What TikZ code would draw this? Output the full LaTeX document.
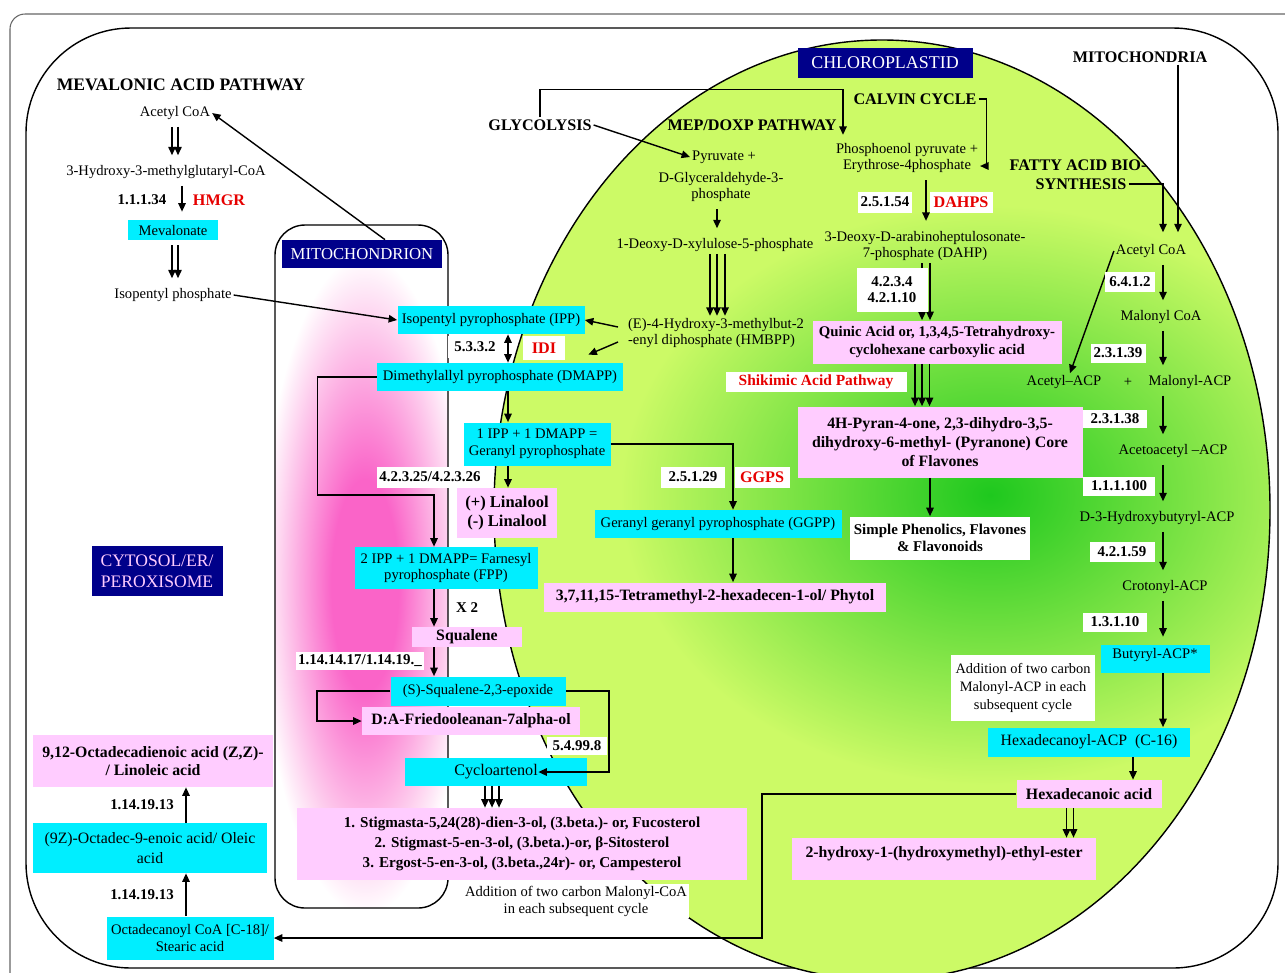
\documentclass[tikz,border=0pt]{standalone}
\usepackage{fontspec}
\setmainfont{Liberation Serif}
\usetikzlibrary{arrows.meta}

\definecolor{boxcyan}{RGB}{0,238,255}
\definecolor{boxpink}{RGB}{255,204,255}
\definecolor{labnavy}{RGB}{0,0,138}
\definecolor{chlight}{RGB}{204,250,102}
\definecolor{chdark}{RGB}{30,200,30}
\definecolor{mitpink}{RGB}{250,100,200}
\definecolor{enzred}{RGB}{230,0,0}
\pgfdeclareradialshading{mitglow}{\pgfpoint{0bp}{0bp}}%
  {color(0bp)=(mitpink); color(8bp)=(mitpink); color(25bp)=(white); color(50bp)=(white)}

\begin{document}
\begin{tikzpicture}[
  x=0.2mm, y=-0.2mm,
  font=\fontsize{8.3}{9.6}\selectfont,
  txt/.style={align=center, inner sep=1pt},
  hdr/.style={txt, font=\fontsize{9.2}{11}\selectfont\bfseries},
  cy/.style={txt, fill=boxcyan, minimum height=5.6mm},
  pk/.style={txt, fill=boxpink, minimum height=5.6mm,
             font=\fontsize{9}{10.6}\selectfont\bfseries},
  ec/.style={txt, fill=white, minimum height=4mm, inner sep=1.5pt,
             font=\fontsize{8.5}{9.2}\selectfont\bfseries},
  enz/.style={ec, text=enzred, font=\fontsize{9.2}{11}\selectfont\bfseries},
  comp/.style={txt, fill=labnavy, text=white},
  >={Triangle[length=1.7mm, width=1.5mm]},
  ln/.style={->, line width=0.8pt},
  fst/.style={ln, shorten <=1mm, shorten >=1.6mm},
  wall/.style={line width=0.8pt},
]
\useasboundingbox (0,0) rectangle (1285,972);

% cell, chloroplast and mitochondrion
\draw[black!60, line width=0.6pt, rounded corners=3mm] (10,14) rectangle (1300,1000);
\draw[wall, rounded corners=21mm] (26,28) rectangle (1278,968);
\fill[chlight] (882,510) ellipse [x radius=77.6mm, y radius=94mm];
\begin{scope}
  \clip (882,510) ellipse [x radius=77.6mm, y radius=94mm];
  \shade[inner color=chdark, outer color=chlight]
    (990,495) ellipse [x radius=74mm, y radius=58mm];
\end{scope}
\draw[wall] (882,510) ellipse [x radius=77.6mm, y radius=94mm];
\begin{scope}
  \clip[rounded corners=6mm] (275,225) rectangle (448,908);
  \shade[shading=mitglow] (365,585) ellipse [x radius=21mm, y radius=66mm];
\end{scope}
\draw[wall, rounded corners=6mm] (275,225) rectangle (448,908);

% mevalonic acid pathway
\node[hdr, font=\fontsize{10}{12}\selectfont\bfseries] (mvat) at (181,85) {MEVALONIC ACID PATHWAY};
\node[txt] (acoa) at (175,113) {Acetyl CoA};
\node[txt] (hmg) at (166,172) {3-Hydroxy-3-methylglutaryl-CoA};
\node[cy, minimum width=18mm, minimum height=4mm] (meva) at (173,230) {Mevalonate};
\node[txt] (ip) at (173,295) {Isopentyl phosphate};

% mitochondrion
\node[comp, minimum width=32mm, minimum height=5.6mm,
      font=\fontsize{9.5}{11}\selectfont] (mitl) at (362,254) {MITOCHONDRION};
\node[cy, minimum width=37.4mm] (ipp) at (491,320) {Isopentyl pyrophosphate (IPP)};
\node[cy, minimum width=49.2mm] (dmapp) at (500,377) {Dimethylallyl pyrophosphate (DMAPP)};
\node[cy, minimum width=29.4mm, minimum height=8.6mm] (gpp) at (537,444)
     {1 IPP + 1 DMAPP =\\Geranyl pyrophosphate};
\node[pk, minimum width=20mm, minimum height=10mm,
      font=\fontsize{9.4}{11}\selectfont\bfseries] (lin) at (507,513)
     {(+) Linalool\\(-) Linalool};
\node[cy, minimum width=36.6mm, minimum height=8.4mm] (fpp) at (446,568)
     {2 IPP + 1 DMAPP= Farnesyl\\pyrophosphate (FPP)};
\node[txt, font=\fontsize{8.5}{10}\selectfont\bfseries] (x2) at (467,608) {X 2};
\node[pk, minimum width=22mm, minimum height=4mm] (squal) at (467,637) {Squalene};
\node[cy, minimum width=35mm, minimum height=5.8mm] (epox) at (478,691) {(S)-Squalene-2,3-epoxide};
\node[pk, minimum width=43.6mm] (fried) at (471,721) {D:A-Friedooleanan-7alpha-ol};
\node[cy, minimum width=36.4mm, font=\fontsize{9.2}{11}\selectfont] (cyc) at (496,772) {Cycloartenol};
\node[pk, minimum width=90mm, minimum height=14.4mm,
      font=\fontsize{8.6}{11.6}\selectfont\bfseries] (ster) at (522,844)
     {1. Stigmasta-5,24(28)-dien-3-ol, (3.beta.)- or, Fucosterol\\
      2. Stigmast-5-en-3-ol, (3.beta.)-or, β-Sitosterol\\
      3. Ergost-5-en-3-ol, (3.beta.,24r)- or, Campesterol};
\node[txt, fill=white] (addc) at (576,901)
     {Addition of two carbon Malonyl-CoA\\in each subsequent cycle};

% chloroplastid
\node[comp, minimum width=35mm, minimum height=6mm,
      font=\fontsize{10.2}{12}\selectfont] (chl) at (885,63) {CHLOROPLASTID};
\node[hdr] (glyc) at (540,125) {GLYCOLYSIS};
\node[hdr] (mep) at (752,125) {MEP/DOXP PATHWAY};
\node[txt] (pyr) at (724,157) {Pyruvate +};
\node[txt] (gap) at (721,187) {D-Glyceraldehyde-3-\\phosphate};
\node[txt] (dxp) at (715,245) {1-Deoxy-D-xylulose-5-phosphate};
\node[txt, align=left, anchor=west] (hmb) at (626,333)
     {(E)-4-Hydroxy-3-methylbut-2\\-enyl diphosphate (HMBPP)};
\node[hdr] (calv) at (915,99) {CALVIN CYCLE};
\node[txt] (pep) at (907,158) {Phosphoenol pyruvate +\\Erythrose-4phosphate};
\node[txt] (dahp) at (925,246) {3-Deoxy-D-arabinoheptulosonate-\\7-phosphate (DAHP)};
\node[pk, minimum width=49.8mm, minimum height=8.6mm,
      font=\fontsize{8.4}{10.6}\selectfont\bfseries] (quin) at (937,342)
     {Quinic Acid or, 1,3,4,5-Tetrahydroxy-\\cyclohexane carboxylic acid};
\node[pk, minimum width=57mm, minimum height=14.2mm] (pyran) at (940,442)
     {4H-Pyran-4-one, 2,3-dihydro-3,5-\\dihydroxy-6-methyl- (Pyranone) Core\\of Flavones};
\node[txt, fill=white, minimum width=36mm, minimum height=8.6mm,
      font=\fontsize{8.5}{9.8}\selectfont\bfseries] (simp) at (940,538)
     {Simple Phenolics, Flavones\\\& Flavonoids};
\node[cy, minimum width=49.4mm] (ggpp) at (718,524) {Geranyl geranyl pyrophosphate (GGPP)};
\node[pk, minimum width=68.4mm, minimum height=5.8mm] (phyt) at (715,597)
     {3,7,11,15-Tetramethyl-2-hexadecen-1-ol/ Phytol};

% fatty acid biosynthesis
\node[hdr] (mitt) at (1140,57) {MITOCHONDRIA};
\node[hdr] (fas1) at (1078,165) {FATTY ACID BIO-};
\node[hdr] (fas2) at (1081,184) {SYNTHESIS};
\node[txt] (acoa2) at (1151,251) {Acetyl CoA};
\node[txt] (mcoa) at (1161,317) {Malonyl CoA};
\node[txt] (aacp) at (1064,382) {Acetyl–ACP};
\node[txt] (plus) at (1128,382) {+};
\node[txt] (macp) at (1190,382) {Malonyl-ACP};
\node[txt] (aaacp) at (1173,451) {Acetoacetyl –ACP};
\node[txt] (hbacp) at (1157,518) {D-3-Hydroxybutyryl-ACP};
\node[txt] (cacp) at (1165,587) {Crotonyl-ACP};
\node[cy, minimum width=21.8mm, text depth=2.2mm] (bacp) at (1155,659) {Butyryl-ACP*};
\node[txt, fill=white, minimum width=28.8mm, minimum height=13.2mm,
      font=\fontsize{8.2}{10.4}\selectfont] (addm) at (1023,688)
     {Addition of two carbon\\Malonyl-ACP in each\\subsequent cycle};
\node[cy, minimum width=40.4mm, minimum height=5.8mm,
      font=\fontsize{9}{11}\selectfont] (hacp) at (1089,742) {Hexadecanoyl-ACP\ \ (C-16)};
\node[pk, minimum width=29mm] (hexa) at (1089,794) {Hexadecanoic acid};
\node[pk, minimum width=60.8mm, minimum height=8.4mm, text depth=3mm] (ester) at (944,859)
     {2-hydroxy-1-(hydroxymethyl)-ethyl-ester};

% cytosol
\node[comp, minimum width=26.2mm, minimum height=10mm, text=boxpink,
      font=\fontsize{10}{12}\selectfont] (cyto) at (157,571) {CYTOSOL/ER/\\PEROXISOME};
\node[pk, minimum width=47.8mm, minimum height=10.4mm] (linol) at (153,761)
     {9,12-Octadecadienoic acid (Z,Z)-\\/ Linoleic acid};
\node[cy, minimum width=46.6mm, minimum height=10mm,
      font=\fontsize{9}{11}\selectfont] (oleic) at (150,848)
     {(9Z)-Octadec-9-enoic acid/ Oleic\\acid};
\node[cy, minimum width=33.4mm, minimum height=8.6mm] (octa) at (190,938)
     {Octadecanoyl CoA [C-18]/\\Stearic acid};

% columns of the vertical steps
\coordinate (cM) at (175,0);
\coordinate (cI) at (508,0);
\coordinate (cF) at (434,0);
\coordinate (cG) at (733,0);
\coordinate (cX) at (717,0);
\coordinate (cD) at (926,0);
\coordinate (cQ) at (922,0);
\coordinate (cS) at (492,0);
\coordinate (cA) at (1163,0);
\coordinate (cH) at (1133,0);
\coordinate (cE) at (1070,0);
\coordinate (cO) at (186,0);
\coordinate (cT) at (1178,0);

\foreach \d in {-0.6,0.6} {
  \draw[fst] ([xshift=\d mm]cM |- acoa.south) -- ([xshift=\d mm]cM |- hmg.north);
  \draw[fst] ([xshift=\d mm]cM |- meva.south) -- ([xshift=\d mm]cM |- ip.north);
}
\draw[fst] ([xshift=1.4mm]cM |- hmg.south) -- ([xshift=1.4mm]cM |- meva.north);
\draw[ln] (ip.east) -- (ipp.west);
\draw[ln] ([xshift=4.6mm]mitl.north) -- (acoa.east);

\draw[ln] (glyc.east) -- (pyr.west);
\draw[ln] (glyc.north) -- ++(0,-28) -| ([xshift=-12.8mm, yshift=1.2mm]pep.north);
\draw[ln] (calv.east) -- ++(8,0) |- ([yshift=-1.6mm]pep.east);
\draw[fst] (cX |- gap.south) -- (cX |- dxp.north);
\foreach \d in {-1.4,0,1.6}
  \draw[ln] ([xshift=\d mm]cX |- dxp.south) -- ([xshift=\d mm]cX |- hmb.north);
\draw[ln] ([shift={(-1.6mm,1.2mm)}]hmb.west) -- (ipp.east);
\draw[ln] ([shift={(-1.6mm,-1.8mm)}]hmb.west) -- ([shift={(-7mm,1.6mm)}]dmapp.north east);
\draw[fst] (cD |- pep.south) -- (cD |- dahp.north);
\foreach \d in {-0.8,0.8}
  \draw[ln] ([xshift=\d mm]cD |- dahp.south) -- ([xshift=\d mm]cD |- quin.north);
\foreach \d in {-1.4,0,1.5}
  \draw[ln] ([xshift=\d mm]cQ |- quin.south) -- ([xshift=\d mm]cQ |- pyran.north);
\draw[ln] ([xshift=1.6mm]cQ |- pyran.south) -- ([xshift=1.6mm]cQ |- simp.north);

\draw[ln, <->] (cI |- ipp.south) -- (cI |- dmapp.north);
\draw[ln] (cI |- dmapp.south) -- (cI |- gpp.north);
\draw[ln] (cI |- gpp.south) -- (cI |- lin.north);
\draw[ln] (dmapp.west) -- ++(-59,0) -- ++(0,118) -| (cF |- fpp.north);
\draw[ln] (gpp.east) -| (cG |- ggpp.north);
\draw[ln] (cG |- ggpp.south) -- (cG |- phyt.north);
\draw[ln] (cF |- fpp.south) -- (cF |- squal.north);
\draw[ln] (cF |- squal.south) -- (cF |- epox.north);
\draw[ln] (epox.west) -- ++(-73,0) |- (fried.west);
\draw[ln] (epox.east) -- ++(43,0) |- ([xshift=-9.8mm]cyc.east);
\foreach \d in {-1.4,0,1.4}
  \draw[ln] ([xshift=\d mm]cS |- cyc.south) -- ([xshift=\d mm]cS |- ster.north);

\draw[ln] (cT |- mitt.south) -- ([yshift=2mm]cT |- acoa2.north);
\draw[ln] (fas2.east) -| ([yshift=2mm]cA |- acoa2.north);
\draw[fst] (cA |- acoa2.south) -- (cA |- mcoa.north);
\draw[ln] (acoa2.west) -- ([xshift=1.2mm]aacp.north);
\draw[fst] (cA |- mcoa.south) -- (cA |- macp.north);
\draw[fst] (cA |- macp.south) -- (cA |- aaacp.north);
\draw[fst] (cA |- aaacp.south) -- (cA |- hbacp.north);
\draw[fst] (cA |- hbacp.south) -- (cA |- cacp.north);
\draw[fst] (cA |- cacp.south) -- (cA |- bacp.north);
\draw[ln] (cA |- bacp.south) -- (cA |- hacp.north);
\draw[ln] (cH |- hacp.south) -- (cH |- hexa.north);
\foreach \d in {-0.7,0.7}
  \draw[ln] ([xshift=\d mm]cE |- hexa.south) -- ([xshift=\d mm]cE |- ester.north);
\draw[ln] (hexa.west) -- ++(-254,0) |- (octa.east);
\draw[ln] (cO |- octa.north) -- (cO |- oleic.south);
\draw[ln] (cO |- oleic.north) -- (cO |- linol.south);

% enzyme labels
\node[ec] (ecmv) at (142,200) {1.1.1.34};
\node[enz] (hmgr) at (219,200) {HMGR};
\node[ec, minimum width=11mm, minimum height=4.4mm] (ecidi) at (475,347) {5.3.3.2};
\node[enz, minimum width=8.4mm, minimum height=4.8mm] (idi) at (544,348) {IDI};
\node[ec, minimum width=21.4mm, minimum height=4.2mm] (ecfps) at (430,477) {4.2.3.25/4.2.3.26};
\node[ec, minimum width=25.2mm, minimum height=3.6mm] (ecsqe) at (360,661) {1.14.14.17/1.14.19.\_};
\node[ec, minimum width=12mm, minimum height=3.6mm] (eccas) at (577,746) {5.4.99.8};
\node[ec, minimum width=12.8mm, minimum height=4.2mm] (ecgg) at (693,477) {2.5.1.29};
\node[enz, minimum width=11mm, minimum height=4.2mm] (ggps) at (762,477) {GGPS};
\node[ec, minimum width=10.8mm, minimum height=4.2mm] (ecdah) at (885,202) {2.5.1.54};
\node[enz, minimum width=12.6mm, minimum height=4.2mm] (dahps) at (961,202) {DAHPS};
\node[ec, minimum width=14.2mm, minimum height=8.8mm] (ecqa) at (892,290) {4.2.3.4\\4.2.1.10};
\node[enz, minimum width=36.2mm, minimum height=4mm,
      font=\fontsize{8.8}{10}\selectfont\bfseries] (shik) at (816,382) {Shikimic Acid Pathway};
\node[ec, minimum width=10mm] (ecf1) at (1130,282) {6.4.1.2};
\node[ec, minimum width=11mm, minimum height=3.8mm] (ecf2) at (1118,353) {2.3.1.39};
\node[ec, minimum width=12.8mm, minimum height=3.6mm] (ecf3) at (1115,419) {2.3.1.38};
\node[ec, minimum width=14.4mm, minimum height=3.8mm] (ecf4) at (1119,486) {1.1.1.100};
\node[ec, minimum width=13mm] (ecf5) at (1122,552) {4.2.1.59};
\node[ec, minimum width=12.8mm, minimum height=3.8mm] (ecf6) at (1115,622) {1.3.1.10};
\node[ec] (ecol1) at (142,805) {1.14.19.13};
\node[ec] (ecol2) at (142,895) {1.14.19.13};

\end{tikzpicture}
\end{document}
